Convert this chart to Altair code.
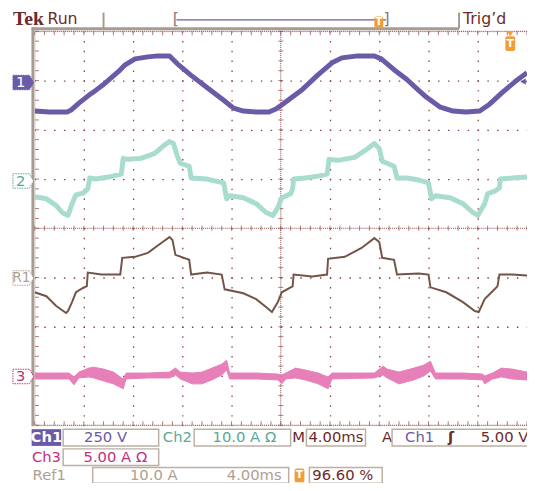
import altair as alt
import pandas as pd
import numpy as np

# ---------------- Data read from the screen ----------------
# time in ms (4 ms/div, 10 div), values in channel units
ch1_t = [0.0, 1.2, 2.0, 2.64, 2.96, 3.6, 4.4, 4.96, 5.6, 6.24, 6.8, 7.36, 8.16, 9.2, 10.0, 10.96,
         11.6, 12.64, 14.0, 15.36, 16.16, 16.96, 18.0, 19.04, 19.6, 20.16, 20.8, 21.76, 23.04, 24.16,
         24.96, 26.24, 27.6, 28.16, 29.2, 30.24, 31.2, 31.84, 32.96, 34.0, 35.04, 36.16, 36.96, 38.0,
         39.04, 40.0]
ch1_v = [-155, -160, -160, -160, -150, -115, -75, -50, -20, 15, 45, 80, 110, 120, 125, 125,
         85, 30, -35, -100, -140, -155, -160, -160, -145, -120, -90, -45, 30, 90,
         115, 125, 125, 110, 55, 5, -50, -85, -135, -155, -160, -155, -120, -60,
         -5, 40]

ch2_t = [0.0, 0.96, 1.76, 2.24, 2.72, 3.04, 3.36, 4.0, 4.32, 4.48, 4.96, 6.0, 7.04, 7.2, 7.6, 8.64,
         9.76, 10.4, 10.96, 11.28, 11.6, 11.84, 12.56, 12.72, 14.0, 15.36, 15.6, 15.84, 16.96, 18.0,
         18.8, 19.36, 19.76, 20.08, 20.8, 20.96, 21.04, 22.0, 23.04, 23.76, 23.92, 24.64, 26.0, 26.96,
         27.6, 28.0, 28.24, 29.2, 29.44, 30.24, 31.2, 32.0, 32.24, 32.56, 33.76, 34.8, 35.6, 36.0,
         36.56, 36.8, 37.44, 37.76, 37.84, 38.8, 40.0]
ch2_a = [-3.6, -4.0, -5.4, -6.8, -7.4, -5.0, -3.2, -2.8, -2.0, 0.2, 0.0, 0.4, 1.0, 4.2, 4.0, 4.2,
         5.2, 6.6, 7.6, 7.2, 4.6, 3.2, 2.6, 0.2, 0.0, -0.8, -4.0, -3.4, -3.8, -5.0,
         -6.8, -7.4, -5.8, -3.8, -3.0, -2.0, 0.0, 0.2, 0.6, 1.0, 4.0, 3.8, 4.4, 6.0,
         7.2, 6.2, 3.6, 2.6, 0.2, 0.2, -0.2, -0.8, -4.0, -3.4, -3.8, -5.0, -6.8, -7.4,
         -5.0, -3.0, -2.4, -1.8, 0.0, 0.2, 0.4]

ref1_t = [0.0, 0.96, 1.76, 2.56, 2.72, 3.04, 3.36, 4.0, 4.24, 4.32, 5.44, 6.96, 7.12, 8.16, 9.2,
          10.4, 10.96, 11.2, 11.44, 12.56, 12.72, 14.0, 15.2, 15.44, 16.96, 18.0, 18.8, 19.28,
          19.76, 20.08, 20.8, 20.96, 21.04, 22.56, 23.76, 23.84, 25.2, 26.56, 27.6, 28.0, 28.24,
          29.2, 29.44, 31.2, 32.0, 32.16, 33.44, 34.8, 35.76, 36.08, 36.56, 37.2, 37.6, 37.76,
          38.8, 40.0]
ref1_a = [-3.0, -3.8, -5.8, -7.2, -6.8, -5.0, -3.0, -2.0, -1.8, 1.0, 0.6, 0.6, 4.0, 4.2, 5.0,
          7.2, 8.2, 7.6, 4.6, 3.6, 0.6, 1.0, 0.6, -2.4, -3.2, -4.4, -6.0, -7.0,
          -5.0, -3.0, -2.0, -1.8, 0.6, 0.2, 0.6, 3.8, 4.2, 6.0, 8.0, 7.2, 4.0,
          3.6, 0.6, 0.8, 0.6, -2.0, -3.0, -5.0, -6.8, -7.0, -4.4, -2.8, -1.8, 0.6,
          0.6, 0.4]

# Ch3: upper and lower edge of the noisy band (A)
ch3_t = [0.0, 2.8, 3.2, 3.6, 4.4, 4.8, 5.6, 6.4, 7.2, 7.44, 9.2, 10.96, 11.44, 11.84, 12.8, 13.6,
         14.4, 15.2, 15.6, 15.84, 18.0, 19.76, 20.08, 20.4, 21.2, 22.0, 23.04, 23.84, 24.16, 27.6,
         28.32, 28.64, 29.6, 30.8, 31.6, 32.16, 32.56, 34.8, 36.4, 36.56, 37.2, 37.92, 38.8, 40.0]
ch3_hi = [0.3, 0.3, -0.1, 0.4, 0.8, 0.9, 0.7, 0.4, -0.3, 0.3, 0.3, 0.4, 0.8, 0.4, 0.3, 0.4,
          0.8, 1.2, 1.6, 0.3, 0.3, 0.2, 0.1, 0.3, 0.8, 0.6, 0.3, -0.1, 0.3, 0.3,
          1.0, 0.7, 0.4, 0.8, 1.1, 1.5, 0.3, 0.3, 0.2, 0.0, 0.3, 0.8, 0.7, 0.4]
ch3_lo = [-0.3, -0.3, -0.9, -0.2, -0.1, -0.2, -0.5, -0.8, -1.3, -0.3, -0.2, -0.2, 0.1, -0.3, -0.8, -0.8,
          -0.4, 0.1, 0.6, -0.3, -0.3, -0.4, -0.8, -0.3, -0.2, -0.4, -0.8, -1.3, -0.3, -0.2,
          0.1, -0.2, -0.8, -0.4, 0.0, 0.5, -0.3, -0.3, -0.4, -0.8, -0.3, -0.1, -0.3, -0.4]

# ---------------- Styles ----------------
GRID = "#8c4242"
DARK = "#6b2b2b"
PURPLE = "#6a5aa8"
TEAL_T = "#a8dccf"
TEAL = "#5aa898"
BROWN = "#745449"
PINK = "#e67ab6"
MAGENTA = "#c2307c"
TAN = "#b0a090"
BOXC = "#bcb0a4"
ORANGE = "#f39c3a"
BAR = "#a89b90"
SANS = "DejaVu Sans"

xs = alt.Scale(domain=[0, 40], nice=False, zero=False)
ys = alt.Scale(domain=[-4, 4], nice=False, zero=False)
xaxis = alt.Axis(values=[4, 8, 12, 16, 24, 28, 32, 36], grid=True, gridDash=[1.5, 8.5],
                 gridDashOffset=0.75, gridColor=GRID, gridWidth=1.3, gridOpacity=1,
                 domain=False, ticks=False, labels=False, title=None)
yaxis = alt.Axis(values=[-3, -2, -1, 1, 2, 3], grid=True, gridDash=[1.5, 8.5],
                 gridDashOffset=0.75, gridColor=GRID, gridWidth=1.3, gridOpacity=1,
                 domain=False, ticks=False, labels=False, title=None)
X = alt.X("t:Q", scale=xs, axis=xaxis)
Y = alt.Y("y:Q", scale=ys, axis=yaxis)

one = pd.DataFrame({"k": [0]})


def ptext(s, x, y, color, size=15, weight="normal", font=SANS, align="center"):
    return alt.Chart(pd.DataFrame({"s": [s]})).mark_text(
        font=font, fontSize=size, fontWeight=weight, color=color, align=align, baseline="middle"
    ).encode(x=alt.value(x), y=alt.value(y), text="s:N")


def prect(x1, x2, y1, y2, fill="white", stroke=None, sw=1.5, r=0):
    kw = dict(fill=fill, cornerRadius=r)
    if stroke:
        kw.update(stroke=stroke, strokeWidth=sw)
    return alt.Chart(one).mark_rect(**kw).encode(
        x=alt.value(x1), x2=alt.value(x2), y=alt.value(y1), y2=alt.value(y2))


def hrule(x1, x2, y, color, w=1, dash=None):
    kw = dict(color=color, strokeWidth=w)
    if dash:
        kw["strokeDash"] = dash
    return alt.Chart(one).mark_rule(**kw).encode(x=alt.value(x1), x2=alt.value(x2), y=alt.value(y))


def vrule(x, y1, y2, color, w=1):
    return alt.Chart(one).mark_rule(color=color, strokeWidth=w).encode(
        x=alt.value(x), y=alt.value(y1), y2=alt.value(y2))


# ---------------- Graticule ----------------
tick_t = pd.DataFrame({"t": np.round(np.arange(0, 40.001, 0.8), 3)})
tick_y = pd.DataFrame({"y": np.round(np.arange(-4, 4.001, 0.2), 3)})

base = alt.Chart(pd.DataFrame({"t": [20.0], "y": [0.0]})).mark_point(opacity=0).encode(X, Y)
center_v = alt.Chart(pd.DataFrame({"t": [20.0]})).mark_rule(
    color=GRID, strokeDash=[1, 1], strokeWidth=1).encode(x=X)
center_h = alt.Chart(pd.DataFrame({"y": [0.0]})).mark_rule(
    color=GRID, strokeDash=[1, 1], strokeWidth=1).encode(y=Y)
ticks_h = alt.Chart(tick_t).transform_calculate(y="0").mark_tick(
    orient="vertical", size=5, thickness=1, color=GRID).encode(X, Y)
ticks_v = alt.Chart(tick_y).transform_calculate(t="20").mark_tick(
    orient="horizontal", size=5, thickness=1, color=GRID).encode(X, Y)
top_line = alt.Chart(pd.DataFrame({"y": [4.0]})).mark_rule(
    color=GRID, strokeDash=[1, 1], strokeWidth=1).encode(y=Y)
bot_line = alt.Chart(pd.DataFrame({"y": [-4.0]})).mark_rule(
    color=GRID, strokeDash=[1, 1], strokeWidth=1).encode(y=Y)
top_ticks = alt.Chart(tick_t).transform_calculate(y="4").mark_tick(
    orient="vertical", size=4, thickness=1, color=GRID, yOffset=2).encode(X, Y)
bot_ticks = alt.Chart(tick_t).transform_calculate(y="-4").mark_tick(
    orient="vertical", size=4, thickness=1, color=GRID, yOffset=-2).encode(X, Y)
left_ticks = alt.Chart(tick_y).transform_calculate(t="0").mark_tick(
    orient="horizontal", size=4, thickness=1, color=GRID, xOffset=2.5).encode(X, Y)

# ---------------- Traces ----------------
df1 = pd.DataFrame({"t": ch1_t, "v": ch1_v})
df2 = pd.DataFrame({"t": ch2_t, "a": ch2_a})
dfr = pd.DataFrame({"t": ref1_t, "a": ref1_a})
df3 = pd.DataFrame({"t": ch3_t, "hi": ch3_hi, "lo": ch3_lo})

tr1 = alt.Chart(df1).transform_calculate(y="3 + datum.v / 250").mark_line(
    color=PURPLE, strokeWidth=5, strokeJoin="round", clip=True).encode(X, Y)
tr2 = alt.Chart(df2).transform_calculate(y="1 + datum.a / 10").mark_line(
    color=TEAL_T, strokeWidth=5, strokeJoin="round", clip=True).encode(X, Y)
trr = alt.Chart(dfr).transform_calculate(y="-1 + datum.a / 10").mark_line(
    color=BROWN, strokeWidth=2, clip=True).encode(X, Y)
tr3 = alt.Chart(df3).transform_calculate(
    y="-3 + datum.hi / 5", y2="-3 + datum.lo / 5").mark_area(
    color=PINK, opacity=0.95, clip=True, stroke=PINK, strokeWidth=1).encode(
    X, Y, y2="y2:Q")

# ---------------- Chrome (pixel coords relative to plot area) ----------------
layers = [base, center_v, center_h, ticks_h, ticks_v, top_line, bot_line, top_ticks,
          bot_ticks, left_ticks, tr2, trr, tr3, tr1]

# frame bars
layers += [vrule(-1.7, -4, 401, BAR, 3), hrule(-3, 431, -2.5, BAR, 3),
           vrule(70, -19, -3, BAR, 2), vrule(431, -19, -3, BAR, 2)]

# header
layers += [ptext("Tek", -22, -12, DARK, 20, "bold", "Liberation Serif", "left"),
           ptext("Run", 13, -12, DARK, 16, "normal", SANS, "left"),
           ptext("Trig\u2019d", 435, -12, DARK, 16, "normal", SANS, "left"),
           hrule(144, 357, -11.6, PURPLE, 1.5),
           ptext("[", 143.5, -12, "#8a7a78", 16), ptext("]", 357.5, -12, "#8a7a78", 16),
           prect(345, 354, -15, -3, ORANGE, r=2),
           ptext("T", 349.5, -9, "white", 10, "bold")]

# trigger markers
layers += [alt.Chart(one).mark_point(shape="triangle-down", filled=True, color=ORANGE, size=45,
                                     opacity=1).encode(x=alt.value(483), y=alt.value(2.5)),
           prect(478, 488, 5, 20, ORANGE, r=2),
           ptext("T", 483, 12.5, "white", 11, "bold"),
           alt.Chart(one).mark_point(shape="triangle-left", filled=True, color=PURPLE, size=40,
                                     opacity=1).encode(x=alt.value(496), y=alt.value(51)),
           hrule(494, 500, 51, PURPLE, 1.5)]

# channel markers
shape = "M-1,-0.7 L0.6,-0.7 L1,0 L0.6,0.7 L-1,0.7 Z"
def marker(label, y, fill, stroke, tcolor, size=15):
    m = alt.Chart(one).mark_point(shape=shape, size=441, filled=True, fill=fill, stroke=stroke,
                                  strokeWidth=1, opacity=1, strokeDash=[1.5, 1]).encode(
        x=alt.value(-11.5), y=alt.value(y))
    t = ptext(label, -14 if len(label) == 1 else -13.5, y, tcolor, size, "normal")
    return [m, t]

layers += marker("1", 52, PURPLE, PURPLE, "white")
layers += marker("2", 152, "white", TEAL, TEAL)
layers += marker("R1", 250.5, "white", TAN, TAN, 14)
layers += marker("3", 350.5, "white", MAGENTA, MAGENTA)

# readouts row 1
layers += [prect(-3, 27, 404, 421, PURPLE),
           ptext("Ch1", 12, 412.5, "white", 15, "bold"),
           prect(29, 126, 404, 421, "white", BOXC),
           ptext("250 V", 72, 412.5, PURPLE),
           ptext("Ch2", 145, 412.5, TEAL),
           prect(162, 260, 404, 421, "white", BOXC),
           ptext("10.0 A \u03a9", 213, 412.5, TEAL),
           ptext("M", 268, 412.5, DARK),
           prect(276, 336, 404, 421, "white", BOXC),
           ptext("4.00ms", 306, 412.5, DARK),
           ptext("A", 358, 412.5, DARK),
           prect(363, 510, 404, 421, "white", BOXC),
           ptext("Ch1", 391, 412.5, PURPLE),
           ptext("\u0283", 423, 412.5, DARK, 15, "bold"),
           ptext("5.00 V", 453, 412.5, DARK, 15, "normal", SANS, "left")]
# row 2
layers += [ptext("Ch3", 12, 432.5, MAGENTA),
           prect(29, 126, 424, 441, "white", BOXC),
           ptext("5.00 A \u03a9", 82, 432.5, MAGENTA)]
# row 3
layers += [ptext("Ref1", -2, 451, TAN, 15, "normal", SANS, "left"),
           prect(59, 258, 443, 459, "white", BOXC),
           ptext("10.0 A", 121, 451, TAN),
           ptext("4.00ms", 223, 451, TAN),
           prect(264, 274, 444, 458, ORANGE, r=2),
           ptext("T", 269, 451, "white", 11, "bold"),
           prect(279, 353, 443, 459, "white", BOXC),
           ptext("96.60 %", 282, 451, DARK, 15, "normal", SANS, "left")]

chart = alt.layer(*layers).properties(
    width=500, height=400,
    autosize=alt.AutoSizeParams(type="none"),
    padding={"left": 27, "top": 20, "right": 0, "bottom": 55},
).configure_view(strokeWidth=0).configure(background="white")

chart.save("out.html", embed_options={"renderer": "svg", "actions": False})
